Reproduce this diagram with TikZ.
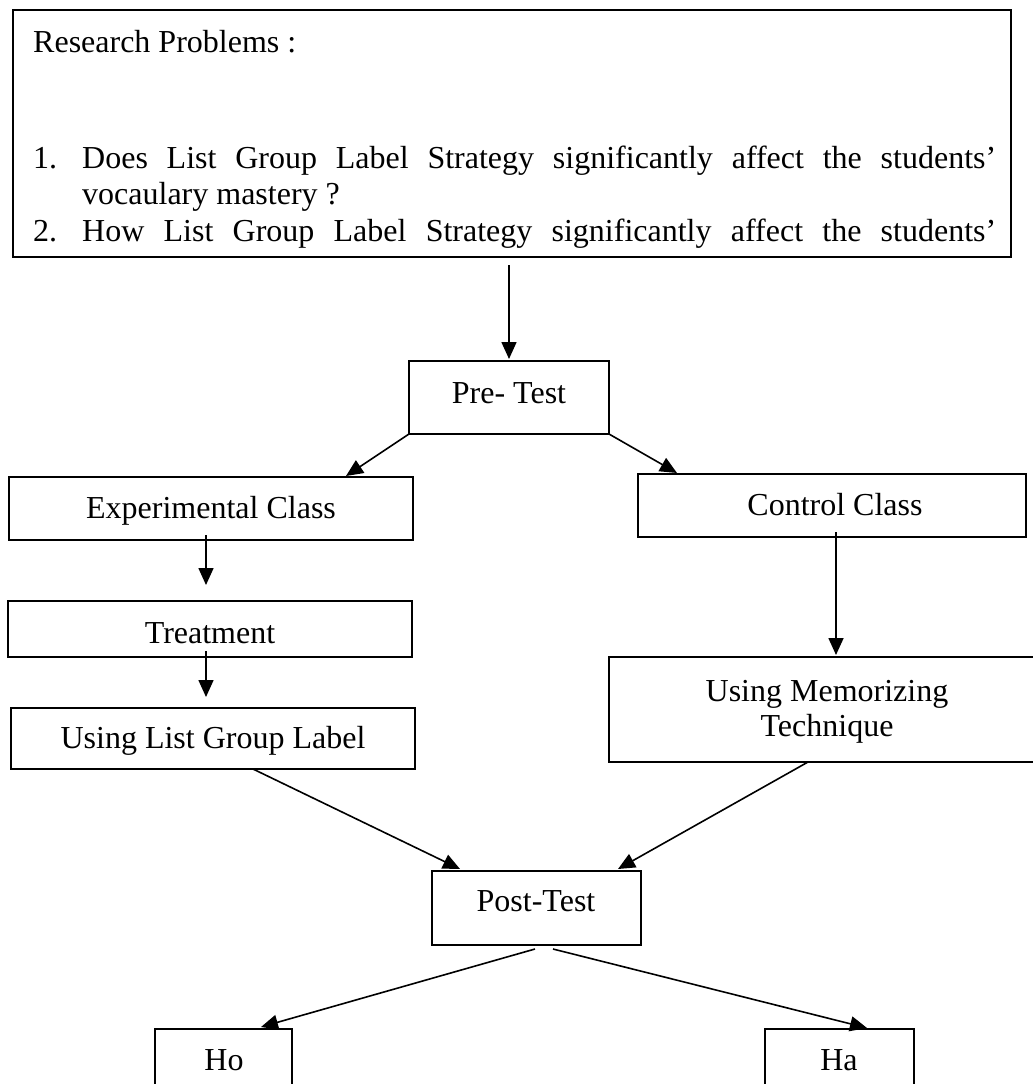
\documentclass[tikz,border=0pt]{standalone}
\usepackage{fontspec}
\setmainfont{Liberation Serif}
\usetikzlibrary{arrows.meta,calc}
\tikzset{
  box/.style={draw=black, line width=1.8pt, rectangle, inner sep=0pt, outer sep=0pt},
  txt/.style={font=\fontsize{32}{37}\selectfont, inner sep=0pt, anchor=base},
  txtl/.style={txt, anchor=base west},
  arr/.style={line width=1.6pt, -{Triangle[length=17pt,width=15pt]}},
}
\begin{document}
\begin{tikzpicture}[x=1pt,y=-1pt]
\useasboundingbox (0,0) rectangle (1033,1084);
\clip (0,0) rectangle (1033,1084);
\fill[white] (0,0) rectangle (1033,1084);

% boxes
\node[box, minimum width=998pt, minimum height=247pt] (rp) at (512,133.5) {};
\node[box, minimum width=200pt, minimum height=73pt] (pre) at (509,397.5) {};
\node[box, minimum width=404pt, minimum height=63pt] (exp) at (211,508.5) {};
\node[box, minimum width=388pt, minimum height=63pt] (ctl) at (832,505.5) {};
\node[box, minimum width=404pt, minimum height=56pt] (trt) at (210,629) {};
\node[box, minimum width=404pt, minimum height=61pt] (ulg) at (213,738.5) {};
\node[box, minimum width=436pt, minimum height=105pt] (mem) at (827,709.5) {};
\node[box, minimum width=209pt, minimum height=74pt] (post) at (536.5,908) {};
\node[box, minimum width=137pt, minimum height=80pt] (ho) at (223.5,1069) {};
\node[box, minimum width=149pt, minimum height=80pt] (ha) at (839.5,1069) {};

% texts
\node[txtl] (t0) at (33,52) {Research Problems :};
\node[txtl] (n1) at (33,168) {1.};
\node[txtl] (l1) at (82,168) {\makebox[914pt][s]{Does List Group Label Strategy significantly affect the students'}};
\node[txtl] (l2) at (82,204) {vocaulary mastery ?};
\node[txtl] (n2) at (33,241) {2.};
\node[txtl] (l3) at (82,241) {\makebox[914pt][s]{How List Group Label Strategy significantly affect the students'}};
\node[txt] (tpre) at (509,403) {Pre- Test};
\node[txt] (texp) at (211,518) {Experimental Class};
\node[txt] (tctl) at (835,515) {Control Class};
\node[txt] (ttrt) at (210,643) {Treatment};
\node[txt] (tulg) at (213,748) {Using List Group Label};
\node[txt] (tmem1) at (827,701) {Using Memorizing};
\node[txt] (tmem2) at (827,736) {Technique};
\node[txt] (tpost) at (536,911) {Post-Test};
\node[txt] (tho) at (224,1070) {Ho};
\node[txt] (tha) at (839,1070) {Ha};

% connectors
\draw[arr] ($(rp.south -| pre.north)+(0,8)$) -- ($(pre.north)+(0,-2)$);
\draw[arr] (pre.south west) -- ($(exp.north west)+(337,-1)$);
\draw[arr] (pre.south east) -- ($(ctl.north west)+(39,-1)$);
\draw[arr] ($(exp.south)+(-5,-5)$) -- ($(trt.north)+(-4,-16)$);
\draw[arr] ($(trt.south)+(-4,-6)$) -- ($(ulg.north)+(-7,-11)$);
\draw[arr] ($(ctl.south)+(4,-5)$) -- ($(mem.north)+(9,-2)$);
\draw[arr] ($(ulg.south)+(40,0)$) -- ($(post.north west)+(28,-2)$);
\draw[arr] ($(mem.south)+(-19,0)$) -- ($(post.north east)+(-23,-2)$);
\draw[arr] ($(post.south)+(-1.5,4)$) -- ($(ho.north)+(37.5,-2)$);
\draw[arr] ($(post.south)+(16.5,4)$) -- ($(ha.north)+(27.5,-1)$);
\end{tikzpicture}
\end{document}
